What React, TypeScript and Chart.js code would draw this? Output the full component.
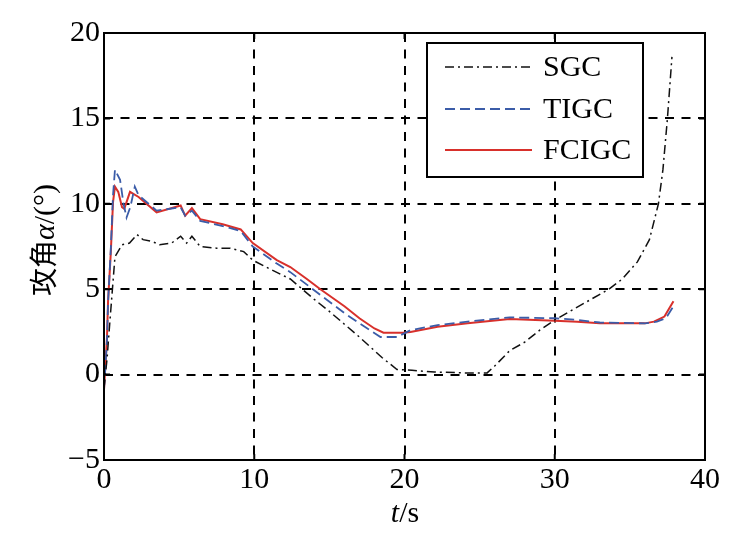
import { useEffect, useRef } from 'react';
import { Chart, registerables } from 'chart.js';

Chart.register(...registerables);

const serif = '"Liberation Serif", "Times New Roman", serif';

const seriesNames = ['SGC', 'TIGC', 'FCIGC'];

const sgcT = [0, 0.2, 0.4, 0.73, 1.2, 1.7, 2.2, 2.6, 3.2, 3.7, 4.5, 5.1, 5.5, 5.85, 6.4, 7.5, 8.4, 9.3, 9.9, 11, 12.4, 13.2, 14, 15, 16, 17, 18, 18.5, 19.5, 20.5, 22, 24, 25.5, 26, 27, 28, 29, 30, 31, 32, 33, 33.6, 34.5, 35.5, 36.3, 36.9, 37.2, 37.5, 37.65, 37.8];
const sgcA = [-0.8, 0.9, 3.2, 6.9, 7.6, 7.7, 8.2, 7.9, 7.8, 7.6, 7.7, 8.1, 7.7, 8.1, 7.5, 7.4, 7.4, 7.2, 6.7, 6.2, 5.6, 5.0, 4.4, 3.7, 2.95, 2.2, 1.4, 1.0, 0.3, 0.25, 0.15, 0.1, 0.1, 0.5, 1.4, 1.9, 2.6, 3.2, 3.7, 4.2, 4.7, 5.0, 5.6, 6.6, 7.9, 10.0, 12.0, 15.0, 16.8, 18.6];

const tigcT = [0, 0.2, 0.27, 0.45, 0.6, 0.73, 1.07, 1.3, 1.5, 1.75, 2.05, 2.3, 3.5, 5.1, 5.4, 5.85, 6.4, 7.9, 9.1, 9.9, 11.5, 12.4, 13.9, 16, 17, 18.4, 19.5, 20.4, 22.2, 24.2, 27, 30, 31.5, 33, 36, 36.8, 37.4, 37.9];
const tigcA = [-0.9, 2.0, 4.2, 7.3, 10.5, 12.0, 11.4, 10.0, 9.2, 9.8, 11.0, 10.5, 9.6, 9.8, 9.3, 9.6, 9.0, 8.7, 8.4, 7.5, 6.5, 6.0, 5.0, 3.6, 3.0, 2.2, 2.2, 2.6, 2.9, 3.1, 3.35, 3.3, 3.2, 3.05, 3.0, 3.1, 3.3, 4.0];

const fcigcT = [0, 0.2, 0.27, 0.45, 0.6, 0.73, 0.95, 1.2, 1.35, 1.73, 2.3, 3.5, 5.1, 5.4, 5.85, 6.4, 7.9, 9.1, 9.9, 11.5, 12.4, 13.5, 14.4, 16, 17, 18, 18.6, 19.9, 20.4, 22.2, 24.2, 27, 30, 31.5, 33, 36, 36.6, 37.3, 37.9];
const fcigcA = [-0.9, 2.2, 4.3, 7.1, 10.1, 11.0, 10.7, 9.8, 9.7, 10.7, 10.4, 9.5, 9.9, 9.3, 9.75, 9.1, 8.8, 8.5, 7.7, 6.7, 6.3, 5.6, 5.0, 4.0, 3.3, 2.7, 2.45, 2.45, 2.5, 2.8, 3.0, 3.25, 3.15, 3.1, 3.0, 3.0, 3.1, 3.4, 4.3];

const xTicks = [0, 10, 20, 30, 40];
const yTicks = [-5, 0, 5, 10, 15, 20];

const lineColors = ['#111111', '#3b5ca8', '#d8302b'];
const lineWidths = [1.5, 1.8, 2];
const lineDashes = [[9, 4, 2, 4], [10, 5], []];

function toPoints(ts: number[], vs: number[]) {
  return ts.map((t, i) => ({ x: t, y: vs[i] }));
}

const framePlugin = {
  id: 'frame',
  afterDatasetsDraw(chart: any) {
    const { ctx, chartArea: a, scales } = chart;
    ctx.save();
    ctx.strokeStyle = '#000';
    ctx.lineWidth = 2;
    ctx.setLineDash([]);
    ctx.strokeRect(a.left, a.top, a.right - a.left, a.bottom - a.top);
    // inward ticks on all sides
    const tl = 6;
    ctx.beginPath();
    xTicks.forEach(v => {
      const px = scales.x.getPixelForValue(v);
      ctx.moveTo(px, a.bottom); ctx.lineTo(px, a.bottom - tl);
      ctx.moveTo(px, a.top); ctx.lineTo(px, a.top + tl);
    });
    yTicks.forEach(v => {
      const py = scales.y.getPixelForValue(v);
      ctx.moveTo(a.left, py); ctx.lineTo(a.left + tl, py);
      ctx.moveTo(a.right, py); ctx.lineTo(a.right - tl, py);
    });
    ctx.stroke();

    // legend
    const bx = 427, by = 43, bw = 216, bh = 134;
    ctx.fillStyle = '#fff';
    ctx.fillRect(bx, by, bw, bh);
    ctx.lineWidth = 2;
    ctx.strokeRect(bx, by, bw, bh);
    const rows = [67, 109, 150];
    ctx.font = `30px ${serif}`;
    ctx.textBaseline = 'middle';
    ctx.textAlign = 'left';
    seriesNames.forEach((name, i) => {
      ctx.beginPath();
      ctx.strokeStyle = lineColors[i];
      ctx.lineWidth = lineWidths[i];
      ctx.setLineDash(lineDashes[i]);
      ctx.moveTo(445, rows[i]);
      ctx.lineTo(532, rows[i]);
      ctx.stroke();
      ctx.setLineDash([]);
      ctx.fillStyle = '#000';
      ctx.fillText(name, 543, rows[i] + 1);
    });

    // x axis title: t/s
    ctx.textBaseline = 'alphabetic';
    ctx.font = `italic 30px ${serif}`;
    const tW = ctx.measureText('t').width;
    ctx.font = `30px ${serif}`;
    const sW = ctx.measureText('/s').width;
    const sx = 405 - (tW + sW) / 2;
    ctx.font = `italic 30px ${serif}`;
    ctx.fillText('t', sx, 522);
    ctx.font = `30px ${serif}`;
    ctx.fillText('/s', sx + tW, 522);

    // y axis title: 攻角α/(°)
    ctx.save();
    ctx.translate(54, 240);
    ctx.rotate(-Math.PI / 2);
    const parts = [
      { s: '攻角', f: `28px "Noto Sans CJK SC", sans-serif` },
      { s: 'α', f: `italic 30px ${serif}` },
      { s: '/(°)', f: `30px ${serif}` },
    ];
    let total = 0;
    parts.forEach(p => { ctx.font = p.f; total += ctx.measureText(p.s).width; });
    let px = -total / 2;
    parts.forEach(p => {
      ctx.font = p.f;
      ctx.fillText(p.s, px, 0);
      px += ctx.measureText(p.s).width;
    });
    ctx.restore();
    ctx.restore();
  },
};

export default function App() {
  const canvasRef = useRef<HTMLCanvasElement>(null);

  useEffect(() => {
    document.body.style.margin = '0';
    if (!canvasRef.current) return;
    const series = [toPoints(sgcT, sgcA), toPoints(tigcT, tigcA), toPoints(fcigcT, fcigcA)];
    const chart = new Chart(canvasRef.current, {
      type: 'line',
      data: {
        datasets: series.map((pts, i) => ({
          label: seriesNames[i],
          data: pts,
          borderColor: lineColors[i],
          borderWidth: lineWidths[i],
          borderDash: lineDashes[i],
          pointRadius: 0,
          tension: 0,
          fill: false,
        })),
      },
      options: {
        responsive: false,
        animation: false,
        layout: { padding: { top: 33, right: 34, left: 0, bottom: 0 } },
        plugins: { legend: { display: false }, tooltip: { enabled: false } },
        scales: {
          x: {
            type: 'linear',
            min: 0,
            max: 40,
            afterFit: (s: any) => { s.height = 77; },
            afterBuildTicks: (s: any) => { s.ticks = xTicks.map(v => ({ value: v })); },
            grid: { color: '#000', lineWidth: 2, drawTicks: false },
            border: { display: false, dash: [9, 7.5] },
            ticks: { color: '#000', font: { family: serif, size: 30 }, padding: 2, maxRotation: 0 },
          },
          y: {
            type: 'linear',
            min: -5,
            max: 20,
            afterFit: (s: any) => { s.width = 104; },
            afterBuildTicks: (s: any) => { s.ticks = yTicks.map(v => ({ value: v })); },
            grid: { color: '#000', lineWidth: 2, drawTicks: false },
            border: { display: false, dash: [9, 7.5] },
            ticks: {
              color: '#000',
              font: { family: serif, size: 30 },
              padding: 4,
              callback: (v: any) => String(v).replace('-', '\u2212'),
            },
          },
        },
      },
      plugins: [framePlugin],
    });
    return () => chart.destroy();
  }, []);

  return (
    <div style={{ width: 739, height: 537, background: '#fff' }}>
      <canvas ref={canvasRef} width={739} height={537} />
    </div>
  );
}
